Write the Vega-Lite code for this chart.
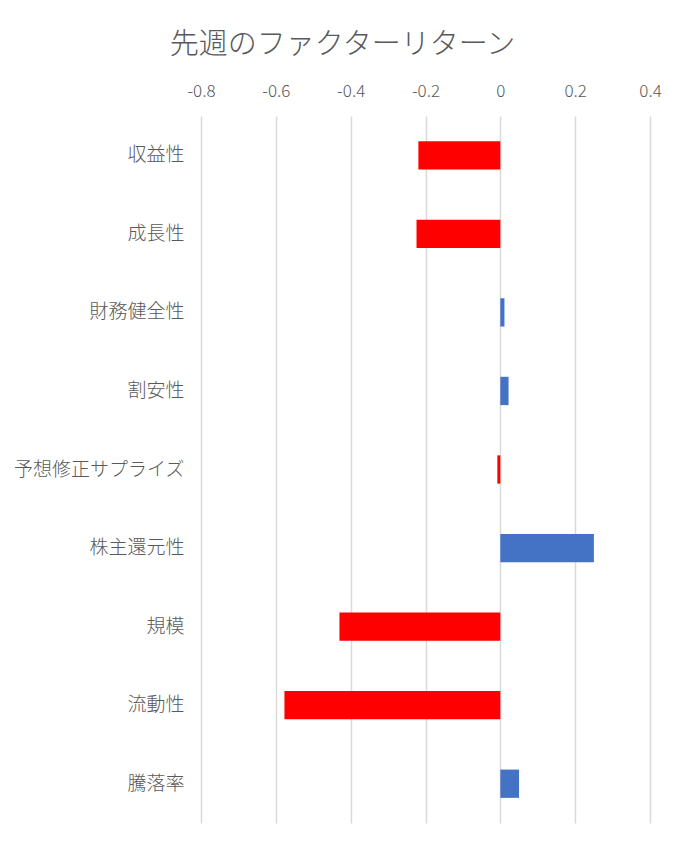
{
  "$schema": "https://vega.github.io/schema/vega-lite/v6.json",
  "autosize": "none",
  "width": 449,
  "height": 707,
  "padding": {"left": 201, "top": 116, "right": 36, "bottom": 25},
  "background": "white",
  "title": {
    "text": "先週のファクターリターン",
    "font": "Noto Sans CJK JP",
    "fontSize": 29,
    "fontWeight": 300,
    "color": "#595959",
    "anchor": "middle",
    "dx": -83,
    "offset": 22
  },
  "data": {
    "values": [
      {"factor": "収益性", "value": -0.219},
      {"factor": "成長性", "value": -0.224},
      {"factor": "財務健全性", "value": 0.011},
      {"factor": "割安性", "value": 0.022},
      {"factor": "予想修正サプライズ", "value": -0.008},
      {"factor": "株主還元性", "value": 0.25},
      {"factor": "規模", "value": -0.43},
      {"factor": "流動性", "value": -0.577},
      {"factor": "騰落率", "value": 0.05}
    ]
  },
  "mark": {"type": "bar"},
  "encoding": {
    "y": {
      "field": "factor",
      "type": "nominal",
      "sort": null,
      "title": null,
      "scale": {"paddingInner": 0.64, "paddingOuter": 0.32},
      "axis": {
        "ticks": false,
        "domain": false,
        "grid": false,
        "labelFont": "Noto Sans CJK JP",
        "labelFontSize": 19,
        "labelFontWeight": 300,
        "labelColor": "#595959",
        "labelPadding": 17
      }
    },
    "x": {
      "field": "value",
      "type": "quantitative",
      "title": null,
      "scale": {"domain": [-0.8, 0.4], "nice": false, "zero": false},
      "axis": {
        "orient": "top",
        "values": [-0.8, -0.6, -0.4, -0.2, 0, 0.2, 0.4],
        "labelExpr": "'' + round(datum.value * 10) / 10",
        "labelFlush": false,
        "labelOverlap": false,
        "ticks": false,
        "domain": false,
        "grid": true,
        "gridColor": "#d9d9d9",
        "gridWidth": 1.5,
        "labelFont": "Noto Sans CJK JP",
        "labelFontSize": 17,
        "labelFontWeight": 300,
        "labelColor": "#595959",
        "labelPadding": 16
      }
    },
    "color": {
      "condition": {"test": "datum.value < 0", "value": "#FF0000"},
      "value": "#4472C4"
    }
  },
  "config": {"view": {"stroke": null}}
}
